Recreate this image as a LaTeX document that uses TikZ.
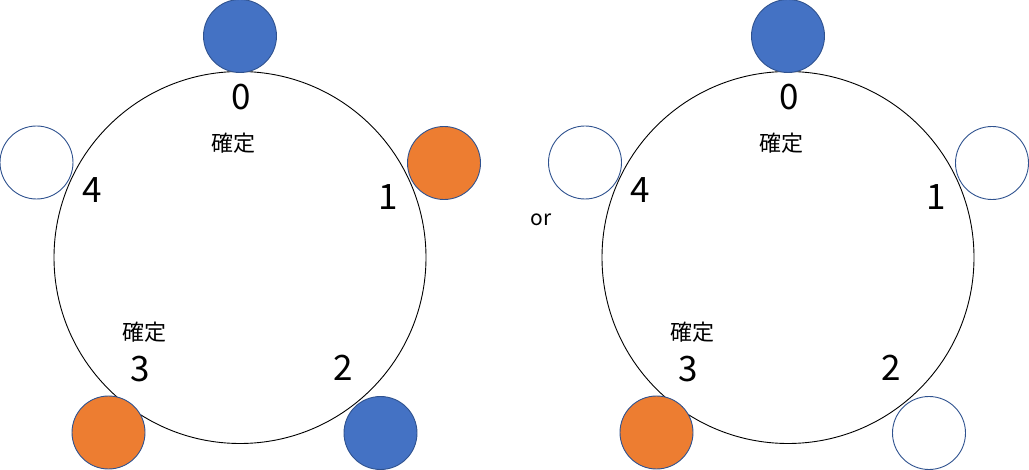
\documentclass[tikz,border=0pt]{standalone}
\usepackage{fontspec}
\setmainfont{Noto Sans CJK JP}
\definecolor{sblue}{HTML}{4472C4}
\definecolor{sorange}{HTML}{ED7D31}
\definecolor{sedge}{HTML}{2F528F}
\tikzset{
  ring/.style={circle,draw=black,line width=0.9pt,minimum size=372pt,inner sep=0pt},
  seat/.style={circle,draw=sedge,line width=0.9pt,minimum size=73pt,inner sep=0pt},
  bluseat/.style={seat,fill=sblue},
  orseat/.style={seat,fill=sorange},
  whseat/.style={seat,fill=white},
  num/.style={font=\fontsize{35}{38}\selectfont,inner sep=0pt},
  fix/.style={font=\fontsize{22}{24}\selectfont,inner sep=0pt},
}
\begin{document}
\begin{tikzpicture}[x=1pt,y=-1pt]
\useasboundingbox (0,0) rectangle (1029,470);
% left
\node[ring] (L) at (240,257.5) {};
\node[bluseat] (L0) at (240,36) {};
\node[orseat] (L1) at (444,163) {};
\node[bluseat] (L2) at (380.5,433) {};
\node[orseat] (L3) at (108.5,432.5) {};
\node[whseat] (L4) at (36.5,162.5) {};
\node[num] (l0) at (241,97) {0};
\node[num] (l1) at (388,197) {1};
\node[num] (l2) at (343,368) {2};
\node[num] (l3) at (140,369) {3};
\node[num] (l4) at (92,190) {4};
\node[fix] (lf1) at (233,143) {確定};
\node[fix] (lf2) at (144,332) {確定};
% or
\node[font=\fontsize{21}{23}\selectfont,inner sep=0pt] (or) at (541,220) {or};
% right
\node[ring] (R) at (788,257.5) {};
\node[bluseat] (R0) at (788,36) {};
\node[whseat] (R1) at (992,163) {};
\node[whseat] (R2) at (929,433) {};
\node[orseat] (R3) at (656.5,432.5) {};
\node[whseat] (R4) at (585,162.5) {};
\node[num] (r0) at (789,97) {0};
\node[num] (r1) at (936,197) {1};
\node[num] (r2) at (891,368) {2};
\node[num] (r3) at (688,369) {3};
\node[num] (r4) at (640,190) {4};
\node[fix] (rf1) at (781,143) {確定};
\node[fix] (rf2) at (692,332) {確定};
\end{tikzpicture}
\end{document}
